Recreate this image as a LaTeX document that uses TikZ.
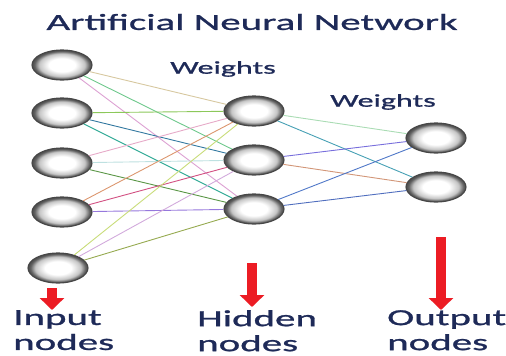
\documentclass[tikz,border=0pt]{standalone}
\usepackage{fontspec}
\usepackage{tikz}
\usetikzlibrary{arrows.meta,calc,shapes.geometric}

\newfontfamily\annfont[FakeStretch=1.78,FakeBold=1.1]{Carlito}
\definecolor{textnavy}{RGB}{30,42,88}
\definecolor{arrowred}{RGB}{236,28,36}
\pgfdeclareradialshading{neuronball}{\pgfpoint{0bp}{0bp}}{%
  color(0bp)=(white); color(11bp)=(white); color(19bp)=(gray!45);
  color(23bp)=(gray!75!black); color(25bp)=(gray!60!black); color(50bp)=(gray!60!black)}

\begin{document}
\begin{tikzpicture}[x=1pt,y=-1pt,
    neuron/.style={ellipse,minimum width=60pt,minimum height=30pt,
      draw=gray!55!black,line width=1.1pt,shading=neuronball},
    wire/.style={line width=0.9pt},
    redarrow/.style={arrowred,line width=10pt,-{Triangle[length=12pt,width=24pt]}},
    caption/.style={font=\annfont\fontsize{23}{25}\selectfont,text=textnavy,
      align=left,anchor=north west,inner sep=0pt}]
  \useasboundingbox (0,0) rectangle (506,356);

  % title
  \node[font=\annfont\fontsize{23}{26}\selectfont,text=textnavy] (title) at (252,22) {Artificial Neural Network};

  % input layer
  \node[neuron] (i1) at (62,65) {};
  \node[neuron] (i2) at (62,113) {};
  \node[neuron] (i3) at (62,163) {};
  \node[neuron] (i4) at (62,212) {};
  \node[neuron] (i5) at (58,268) {};

  % hidden layer
  \node[neuron] (h1) at (254,111) {};
  \node[neuron] (h2) at (254,160) {};
  \node[neuron] (h3) at (254,209) {};

  % output layer
  \node[neuron] (o1) at (436,138) {};
  \node[neuron] (o2) at (436,187) {};

  % weight labels
  \node[font=\annfont\fontsize{18}{20}\selectfont,text=textnavy] (w1) at (223,69) {Weights};
  \node[font=\annfont\fontsize{18}{20}\selectfont,text=textnavy] (w2) at (383,102) {Weights};

  % input -> hidden
  \draw[wire,color={rgb,255:red,215;green,200;blue,160}] (i1) -- (h1);
  \draw[wire,color={rgb,255:red,110;green,200;blue,140}] (i1) -- (h2);
  \draw[wire,color={rgb,255:red,220;green,160;blue,210}] (i1) -- (h3);
  \draw[wire,color={rgb,255:red,140;green,200;blue,90}] (i2) -- (h1);
  \draw[wire,color={rgb,255:red,50;green,120;blue,160}] (i2) -- (h2);
  \draw[wire,color={rgb,255:red,50;green,170;blue,150}] (i2) -- (h3);
  \draw[wire,color={rgb,255:red,230;green,170;blue,200}] (i3) -- (h1);
  \draw[wire,color={rgb,255:red,190;green,225;blue,225}] (i3) -- (h2);
  \draw[wire,color={rgb,255:red,90;green,150;blue,70}] (i3) -- (h3);
  \draw[wire,color={rgb,255:red,220;green,150;blue,110}] (i4) -- (h1);
  \draw[wire,color={rgb,255:red,210;green,80;blue,130}] (i4) -- (h2);
  \draw[wire,color={rgb,255:red,150;green,120;blue,220}] (i4) -- (h3);
  \draw[wire,color={rgb,255:red,200;green,220;blue,120}] (i5) -- (h1);
  \draw[wire,color={rgb,255:red,210;green,170;blue,220}] (i5) -- (h2);
  \draw[wire,color={rgb,255:red,150;green,170;blue,80}] (i5) -- (h3);

  % hidden -> output
  \draw[wire,color={rgb,255:red,170;green,220;blue,180}] (h1) -- (o1);
  \draw[wire,color={rgb,255:red,70;green,160;blue,180}] (h1) -- (o2);
  \draw[wire,color={rgb,255:red,120;green,110;blue,220}] (h2) -- (o1);
  \draw[wire,color={rgb,255:red,210;green,150;blue,120}] (h2) -- (o2);
  \draw[wire,color={rgb,255:red,80;green,120;blue,200}] (h3) -- (o1);
  \draw[wire,color={rgb,255:red,80;green,110;blue,190}] (h3) -- (o2);

  % red arrows to the layer names
  \coordinate (inTop) at (52,288);
  \coordinate (inTip) at (52,310);
  \coordinate (hidTop) at (252,263);
  \coordinate (hidTip) at (252,307);
  \coordinate (outTop) at (441,237);
  \coordinate (outTip) at (441,310);
  \draw[redarrow] (inTop) -- (inTip);
  \draw[redarrow] (hidTop) -- (hidTip);
  \draw[redarrow] (outTop) -- (outTip);

  % layer names
  \node[caption] (inLabel) at (13,310) {Input\\nodes};
  \node[caption] (hidLabel) at (197,310) {Hidden\\nodes};
  \node[caption] (outLabel) at (387,310) {Output\\nodes};
\end{tikzpicture}
\end{document}
